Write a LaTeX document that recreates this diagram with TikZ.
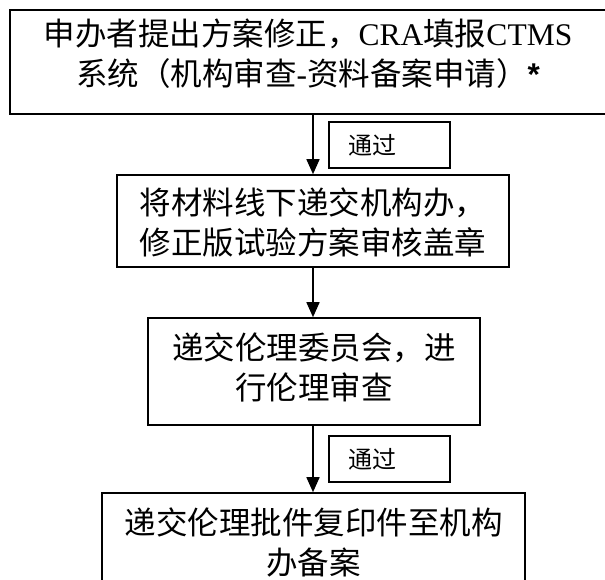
\documentclass[tikz,border=0pt]{standalone}
\usepackage{fontspec}
\setmainfont{Liberation Serif}
\setsansfont{Liberation Sans}
\newfontfamily\cjk{Noto Sans CJK SC}
\usetikzlibrary{arrows.meta}
\begin{document}
\begin{tikzpicture}[x=1pt,y=-1pt,
  box/.style={draw, line width=1.6pt, rectangle, inner sep=0pt},
  txt/.style={align=center, inner sep=0pt, font=\fontsize{31.5}{40}\selectfont\cjk},
  passbox/.style={draw, line width=1.6pt, rectangle, inner ysep=0pt, inner xsep=20pt,
    text width=81pt, align=left, minimum height=46pt, anchor=west,
    font=\fontsize{24}{28}\selectfont\cjk},
  flow/.style={line width=1.6pt, -{Triangle[width=13pt,length=15pt]}}]
\useasboundingbox (0,0) rectangle (605,580);
% boxes
\node[box, minimum width=596pt, minimum height=104pt] (b1) at (308,62) {};
\node[box, minimum width=392pt, minimum height=92pt] (b2) at (313,221) {};
\node[box, minimum width=332pt, minimum height=107pt] (b3) at (314,371.5) {};
\node[box, minimum width=423pt, minimum height=107pt] (b4) at (313.5,546.5) {};
% texts
\node[txt] (t1) at (308,53.5) {申办者提出方案修正，{\rmfamily CRA}填报{\rmfamily CTMS}\\系统（机构审查{\rmfamily -}资料备案申请）{\sffamily\bfseries *}};
\node[txt] (t2) at (313,222) {将材料线下递交机构办，\\修正版试验方案审核盖章};
\node[txt] (t3) at (314,367.5) {递交伦理委员会，进\\行伦理审查};
\node[txt] (t4) at (313.5,542) {递交伦理批件复印件至机构\\办备案};
% pass labels
\node[passbox] (p1) at (328,145) {通过};
\node[passbox] (p2) at (328,459) {通过};
% arrows
\coordinate (a1s) at (b1.south -| 313,0);
\coordinate (a1e) at (b2.north -| 313,0);
\draw[flow] (a1s) -- (a1e);
\coordinate (a2s) at (b2.south -| 313,0);
\coordinate (a2e) at (b3.north -| 313,0);
\draw[flow] (a2s) -- (a2e);
\coordinate (a3s) at (b3.south -| 313,0);
\coordinate (a3e) at (b4.north -| 313,0);
\draw[flow] (a3s) -- (a3e);
\end{tikzpicture}
\end{document}
